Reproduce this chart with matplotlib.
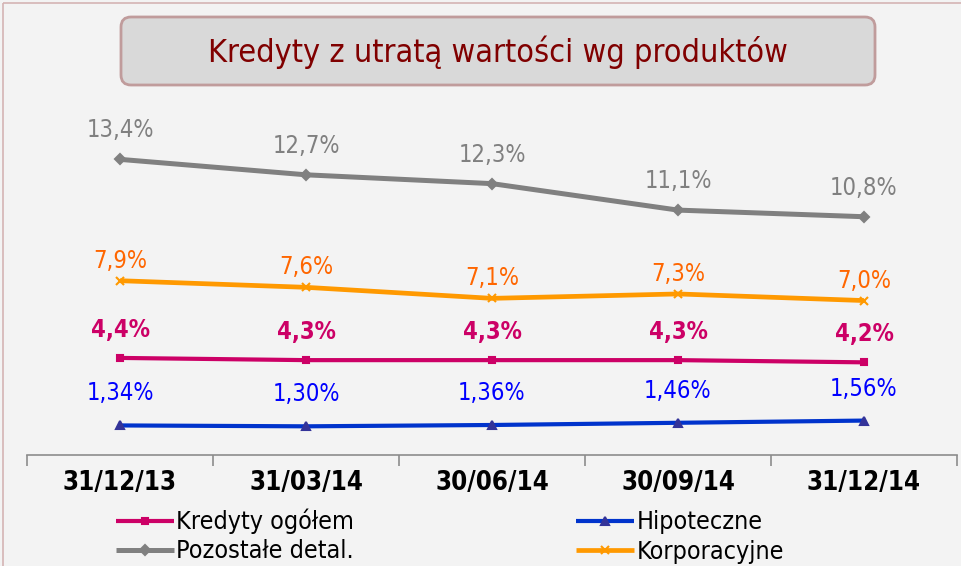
import matplotlib
matplotlib.use("Agg")
import matplotlib.pyplot as plt
from matplotlib.patches import FancyBboxPatch, Rectangle
from matplotlib import font_manager as fm

categories = ["31/12/13", "31/03/14", "30/06/14", "30/09/14", "31/12/14"]
kredyty = [4.4, 4.3, 4.3, 4.3, 4.2]
kredyty_lbl = ["4,4%", "4,3%", "4,3%", "4,3%", "4,2%"]
hipoteczne = [1.34, 1.30, 1.36, 1.46, 1.56]
hipoteczne_lbl = ["1,34%", "1,30%", "1,36%", "1,46%", "1,56%"]
pozostale = [13.4, 12.7, 12.3, 11.1, 10.8]
pozostale_lbl = ["13,4%", "12,7%", "12,3%", "11,1%", "10,8%"]
korporacyjne = [7.9, 7.6, 7.1, 7.3, 7.0]
korporacyjne_lbl = ["7,9%", "7,6%", "7,1%", "7,3%", "7,0%"]
title = "Kredyty z utratą wartości wg produktów"


def find_condensed(bold):
    best = None
    for f in fm.fontManager.ttflist:
        if f.name == "DejaVu Sans" and f.stretch == "condensed" and f.style == "normal":
            isb = f.weight in ("bold", 700)
            if isb == bold:
                best = f.fname
    return best


reg_path = find_condensed(False)
bold_path = find_condensed(True)
COND = reg_path is not None and bold_path is not None
k = 1.0 if COND else 0.9


def fp(size, bold=False):
    if COND:
        p = fm.FontProperties(fname=bold_path if bold else reg_path)
    else:
        p = fm.FontProperties(family="DejaVu Sans", weight="bold" if bold else "normal")
    p.set_size(size * k)
    return p


BG = "#f3f3f3"
W, H = 961, 566
fig = plt.figure(figsize=(W / 100, H / 100), dpi=100, facecolor=BG)

bg = fig.add_axes([0, 0, 1, 1], zorder=0)
bg.set_xlim(0, W)
bg.set_ylim(H, 0)
bg.axis("off")
bg.add_patch(Rectangle((3, 3), W + 10, H + 10, facecolor="none",
                       edgecolor="#d4b4b4", lw=1.2))
bg.add_patch(FancyBboxPatch((121, 17), 754, 68,
                            boxstyle="round,pad=0,rounding_size=10",
                            facecolor="#d9d9d9", edgecolor="#c09c9c", lw=2))
bg.text(498, 52, title, ha="center", va="center", fontproperties=fp(23.2),
        color="#800000")

ax = fig.add_axes([27 / W, (H - 455) / H, 930 / W, 353 / H], zorder=1)
ax.set_facecolor("none")
x = list(range(len(categories)))

series = [
    (pozostale, pozostale_lbl, "#808080", "D", "#808080", 5, 3.6, "#808080", False, 29, "Pozostałe detal."),
    (korporacyjne, korporacyjne_lbl, "#ff9900", "x", "#ff9900", 6, 3.4, "#ff6600", False, 20, "Korporacyjne"),
    (kredyty, kredyty_lbl, "#cc0066", "s", "#cc0066", 4.5, 3.0, "#cc0066", True, 28, "Kredyty ogółem"),
    (hipoteczne, hipoteczne_lbl, "#0033cc", "^", "#333399", 6, 3.0, "#0000ff", False, 32, "Hipoteczne"),
]
handles = {}
for vals, lbls, lc, mk, mc, ms, lw, tc, bold, off, name in series:
    ln, = ax.plot(x, vals, color=lc, lw=lw, marker=mk, markersize=ms,
                  markerfacecolor=mc, markeredgecolor=mc, markeredgewidth=1.5,
                  solid_capstyle="butt", label=name)
    handles[name] = ln
    for xi, v, t in zip(x, vals, lbls):
        ax.annotate(t, (xi, v), xytext=(0, off * 0.72), textcoords="offset points",
                    ha="center", va="center", fontproperties=fp(17, bold), color=tc)

ax.set_xlim(-0.5, len(categories) - 0.5)
ax.set_ylim(0, 16)
ax.set_yticks([])
for s in ["top", "right", "left"]:
    ax.spines[s].set_visible(False)
ax.spines["bottom"].set_color("#8c8c8c")
ax.spines["bottom"].set_linewidth(1.2)
ax.set_xticks([i - 0.5 for i in range(len(categories) + 1)], minor=False)
ax.set_xticklabels([])
ax.tick_params(axis="x", which="major", length=8, width=1.2, color="#8c8c8c", direction="out")
ax.set_xticks(x, minor=True)
ax.set_xticklabels(categories, minor=True, fontproperties=fp(18.5, True), color="#000000")
ax.tick_params(axis="x", which="minor", length=0, pad=11)

order = ["Kredyty ogółem", "Pozostałe detal.", "Hipoteczne", "Korporacyjne"]
leg = fig.legend([handles[n] for n in order], order, loc="upper left",
                 bbox_to_anchor=(116 / W, 1 - 509 / H), ncol=2, frameon=False,
                 prop=fp(18), handlelength=2.3, handletextpad=0.1,
                 columnspacing=8.9, labelspacing=0.2, borderpad=0,
                 borderaxespad=0)

fig.savefig("out.png", dpi=100, facecolor=BG)
